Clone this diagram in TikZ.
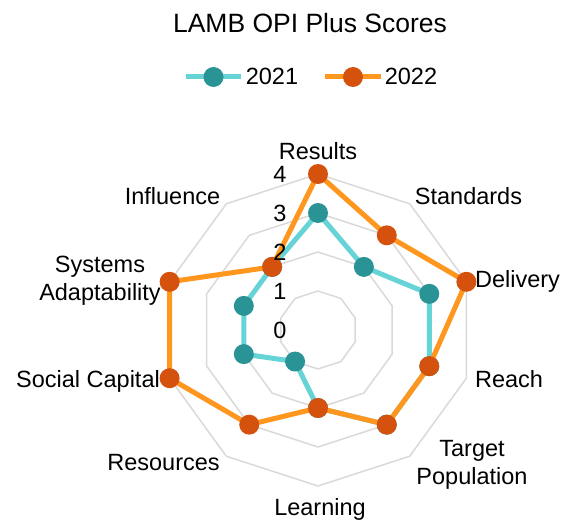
\documentclass[tikz,border=0pt]{standalone}
\usepackage{fontspec}
\setmainfont{Liberation Sans}
\usetikzlibrary{positioning}

\definecolor{line21}{HTML}{66D3D6}
\definecolor{dot21}{HTML}{2A9396}
\definecolor{line22}{HTML}{FF961E}
\definecolor{dot22}{HTML}{D4520E}
\definecolor{gridgray}{HTML}{D9D9D9}

\tikzset{
  lbl/.style={font=\fontsize{23.5}{28}\selectfont, inner sep=0pt, align=center},
  series21/.style={line21, line width=5pt, line join=round},
  series22/.style={line22, line width=5pt, line join=round},
  marker21/.style={circle, fill=dot21, minimum size=20pt, inner sep=0pt},
  marker22/.style={circle, fill=dot22, minimum size=20pt, inner sep=0pt},
  ring/.style={gridgray, line width=1.5pt}
}

\begin{document}
\begin{tikzpicture}[x=1pt, y=1pt]
    \useasboundingbox (0,0) rectangle (574,523);

    % Title and legend
    \node[lbl, font=\fontsize{26.5}{30}\selectfont, anchor=base] (title) at (310,490) {LAMB OPI Plus Scores};
    \coordinate (leg21a) at (186,446);
    \coordinate (leg21b) at (241,446);
    \coordinate (leg22a) at (325,446);
    \coordinate (leg22b) at (381,446);
    \draw[series21] (leg21a) -- (leg21b);
    \node[marker21] (leg21dot) at (213.5,446) {};
    \node[lbl, anchor=base] (leg21) at (272,438) {2021};
    \draw[series22] (leg22a) -- (leg22b);
    \node[marker22] (leg22dot) at (353,446) {};
    \node[lbl, anchor=base] (leg22) at (411,438) {2022};

    % Axis labels
    \node[lbl, anchor=base] (results) at (318,363) {Results};
    \node[lbl, anchor=base] (standards) at (468.5,318) {Standards};
    \node[lbl, anchor=base] (delivery) at (517.5,235) {Delivery};
    \node[lbl, anchor=base] (reach) at (509,135) {Reach};
    \node[lbl] (target) at (472,58) {Target\\Population};
    \node[lbl, anchor=base] (learning) at (320,8) {Learning};
    \node[lbl, anchor=base] (resources) at (163.5,52) {Resources};
    \node[lbl, anchor=base] (social) at (88,135) {Social Capital};
    \node[lbl] (systems) at (100,242.5) {Systems\\Adaptability};
    \node[lbl, anchor=base] (influence) at (172.5,318) {Influence};

    \begin{scope}[shift={(318,193)}]
        % Grid rings
        \foreach \r in {1,...,4}
            \draw[ring] (90:\r*39) \foreach \k in {1,...,9} { -- (90-36*\k:\r*39) } -- cycle;

        % Data points
        \foreach \v [count=\i from 0] in {3,2,3,3,3,2,1,2,2,2}
            \coordinate (a\i) at (90-36*\i:\v*39);
        \foreach \v [count=\i from 0] in {4,3,4,3,3,2,3,4,4,2}
            \coordinate (b\i) at (90-36*\i:\v*39);

        % 2021
        \draw[series21] (a0) -- (a1) -- (a2) -- (a3) -- (a4) -- (a5) -- (a6) -- (a7) -- (a8) -- (a9) -- cycle;
        \foreach \i in {0,...,9}
            \node[marker21] (dota\i) at (a\i) {};

        % 2022
        \draw[series22] (b0) -- (b1) -- (b2) -- (b3) -- (b4) -- (b5) -- (b6) -- (b7) -- (b8) -- (b9) -- cycle;
        \foreach \i in {0,...,9}
            \node[marker22] (dotb\i) at (b\i) {};

        % Scale values
        \foreach \v in {0,...,4}
            \node[lbl] (val\v) at (-38,\v*39) {\v};
    \end{scope}
\end{tikzpicture}
\end{document}
